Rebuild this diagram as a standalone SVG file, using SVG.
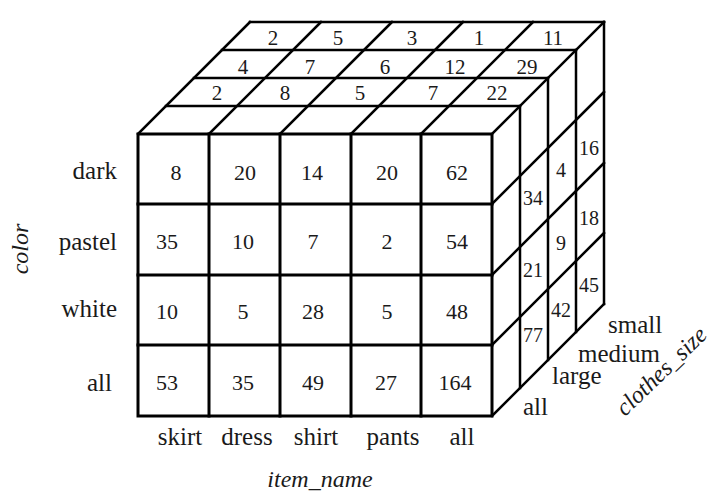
<svg xmlns="http://www.w3.org/2000/svg" width="719" height="498" viewBox="0 0 719 498">
<style>
.ln{stroke:#000;stroke-width:2.5;fill:none;stroke-linecap:square}
.fr{stroke:#000;stroke-width:3;fill:none;stroke-linecap:square}
text{font-family:"Liberation Serif","Times New Roman",serif;fill:#1a1a1a}
.n{font-size:22px;text-anchor:middle}
.t{font-size:21px;text-anchor:middle}
.r{font-size:20px;text-anchor:middle}
.lb{font-size:25px}
.ax{font-size:24px;font-style:italic}
</style>
<rect width="719" height="498" fill="#fff"/>
<g id="connectors">
<g id="top-face" class="ln">
<path d="M166 106H520M194 78H548M222 50H576M250 22H604"/>
<path d="M138 134L250 22M209 134L321 22M280 134L392 22M351 134L463 22M421 134L533 22M492 134L604 22"/>
</g>
<g id="right-face" class="ln">
<path d="M520 106V388M548 78V360M576 50V332M604 22V304"/>
<path d="M492 204L604 92M492 275L604 163M492 345L604 233M492 416L604 304"/>
</g>
<g id="front-face" class="fr">
<rect x="138" y="134" width="354" height="282"/>
<path d="M209 134V416M280 134V416M351 134V416M421 134V416M138 204H492M138 275H492M138 345H492"/>
</g>
</g>
<g id="front-values" class="n">
<text x="176" y="180">8</text><text x="245" y="180">20</text><text x="312" y="180">14</text><text x="387" y="180">20</text><text x="457" y="180">62</text>
<text x="167" y="249">35</text><text x="243" y="249">10</text><text x="313" y="249">7</text><text x="387" y="249">2</text><text x="457" y="249">54</text>
<text x="167" y="319">10</text><text x="243" y="319">5</text><text x="313" y="319">28</text><text x="387" y="319">5</text><text x="457" y="319">48</text>
<text x="167" y="390">53</text><text x="243" y="390">35</text><text x="313" y="390">49</text><text x="386" y="390">27</text><text x="455" y="390">164</text>
</g>
<g id="top-values" class="t">
<text x="273" y="45">2</text><text x="338" y="45">5</text><text x="412" y="45">3</text><text x="479" y="45">1</text><text x="553" y="45">11</text>
<text x="243" y="74">4</text><text x="310" y="74">7</text><text x="385" y="74">6</text><text x="455" y="74">12</text><text x="527" y="74">29</text>
<text x="217" y="100">2</text><text x="285" y="100">8</text><text x="360" y="100">5</text><text x="433" y="100">7</text><text x="497" y="100">22</text>
</g>
<g id="right-values" class="r">
<text x="589" y="155">16</text><text x="561" y="177">4</text><text x="533" y="205">34</text>
<text x="589" y="225">18</text><text x="561" y="250">9</text><text x="533" y="277">21</text>
<text x="589" y="292">45</text><text x="561" y="317">42</text><text x="533" y="342">77</text>
</g>
<g id="color-labels" class="lb" text-anchor="end">
<text x="117" y="179">dark</text>
<text x="117" y="250">pastel</text>
<text x="117" y="317">white</text>
<text x="112" y="391">all</text>
</g>
<g id="item-labels" class="lb" text-anchor="middle">
<text x="180" y="445">skirt</text>
<text x="247" y="445">dress</text>
<text x="316" y="445">shirt</text>
<text x="393" y="445">pants</text>
<text x="462" y="445">all</text>
</g>
<g id="size-labels" class="lb">
<text x="608" y="333">small</text>
<text x="578" y="362">medium</text>
<text x="552" y="384">large</text>
<text x="523" y="415">all</text>
</g>
<g id="axis-labels" class="ax">
<text x="28" y="249" text-anchor="middle" transform="rotate(-90 28 249)">color</text>
<text x="320" y="487" text-anchor="middle">item_name</text>
<text x="625" y="417" transform="rotate(-44 625 417)">clothes_size</text>
</g>
</svg>
